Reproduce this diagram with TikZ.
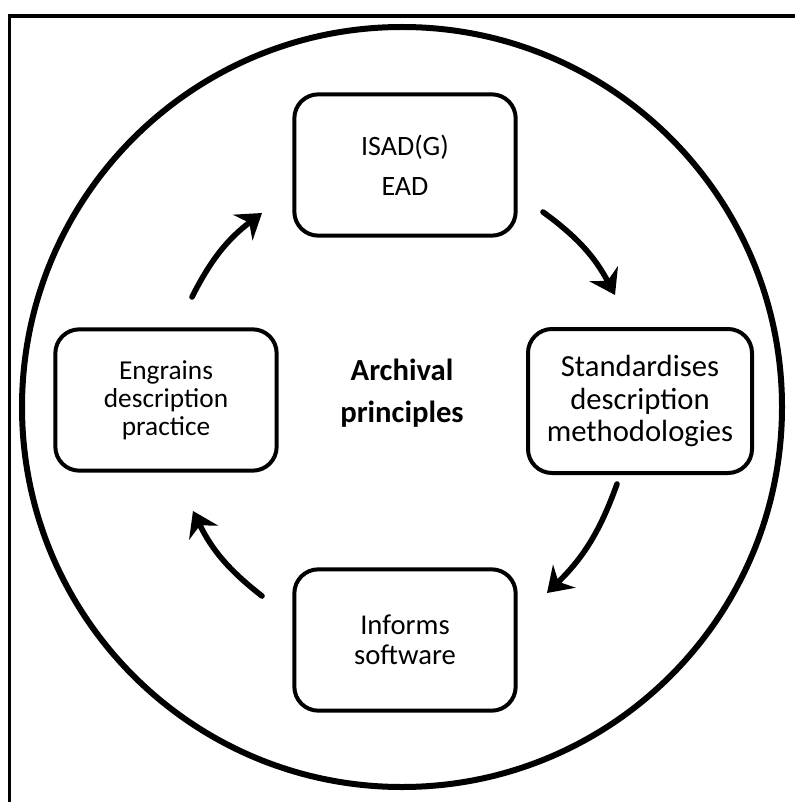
\documentclass[tikz,border=0pt]{standalone}
\usepackage{fontspec}
\setmainfont{Carlito}
\usetikzlibrary{arrows.meta}
\begin{document}
\begin{tikzpicture}[x=0.75pt,y=-0.75pt,
  stagebox/.style={draw, line width=3pt, rounded corners=18pt, align=center,
    inner sep=0pt, minimum width=166pt, minimum height=106pt},
  flowarrow/.style={line width=4.2pt, line cap=round,
    -{Stealth[length=18pt,width=24pt,inset=6pt]}, bend left=13}]
\useasboundingbox (0,0) rectangle (795,802);
% partial frame
\coordinate (fbl) at (9.5,802);
\coordinate (ftl) at (9.5,16);
\coordinate (ftr) at (795,16);
\draw[line width=2.4pt] (fbl) -- (ftl) -- (ftr);
% big circle
\coordinate (cc) at (402,407);
\draw[line width=4.5pt] (cc) circle[radius=380];
% boxes
\node[stagebox, font=\fontsize{21}{30}\selectfont] (top) at (405,165) {ISAD(G)\\EAD};
\node[stagebox, font=\fontsize{20.5}{21}\selectfont] (left) at (166,400) {Engrains\\description\\practice};
\node[stagebox, font=\fontsize{23}{24.4}\selectfont, minimum width=168pt, minimum height=108pt] (right) at (640,401) {Standardises\\description\\methodologies};
\node[stagebox, font=\fontsize{21.5}{22.5}\selectfont] (bottom) at (405,640) {Informs\\software};
\node[align=center, font=\bfseries\fontsize{23}{32}\selectfont] (center) at (402,393) {Archival\\principles};
% arrows
\coordinate (a1s) at (192,297); \coordinate (a1e) at (262,213);
\coordinate (a2s) at (543,212); \coordinate (a2e) at (615,295);
\coordinate (a3s) at (617,484); \coordinate (a3e) at (547,593);
\coordinate (a4s) at (262,596); \coordinate (a4e) at (193,511);
\draw[flowarrow] (a1s) to (a1e);
\draw[flowarrow] (a2s) to (a2e);
\draw[flowarrow] (a3s) to (a3e);
\draw[flowarrow] (a4s) to (a4e);
\end{tikzpicture}
\end{document}
